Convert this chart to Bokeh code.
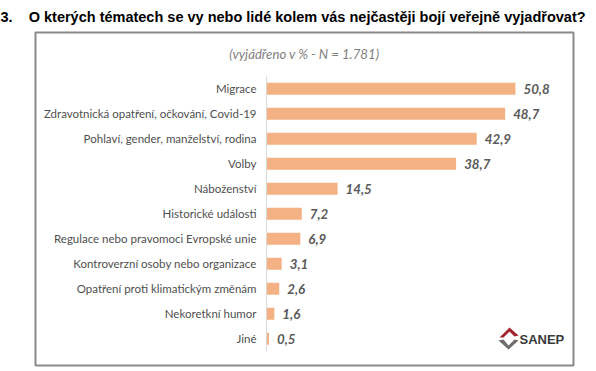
from bokeh.plotting import figure
from bokeh.models import Range1d, Label, ColumnDataSource
from bokeh.core.properties import value
from bokeh.embed import file_html
from bokeh.resources import INLINE

# ---- data ----
categories = [
    "Migrace",
    "Zdravotnická opatření, očkování, Covid-19",
    "Pohlaví, gender, manželství, rodina",
    "Volby",
    "Náboženství",
    "Historické události",
    "Regulace nebo pravomoci Evropské unie",
    "Kontroverzní osoby nebo organizace",
    "Opatření proti klimatickým změnám",
    "Nekoretkní humor",
    "Jiné",
]
values = [50.8, 48.7, 42.9, 38.7, 14.5, 7.2, 6.9, 3.1, 2.6, 1.6, 0.5]
value_labels = ["50,8", "48,7", "42,9", "38,7", "14,5", "7,2", "6,9", "3,1", "2,6", "1,6", "0,5"]
title_text = "3.\u00a0\u00a0\u00a0\u00a0O kterých tématech se vy nebo lidé kolem vás nejčastěji bojí veřejně vyjadřovat?"
subtitle_text = "(vyjádřeno v % - N = 1.781)"
brand = "SANEP"

n = len(categories)
ypos = [n - 1 - i for i in range(n)]

# pixel <-> data helpers (page pixels; 4.9 px per % in x, 25 px per row in y)
PX0, SX = 266.0, 4.9
PY0, SY = 338.3, 25.0

def dx(px):
    return (px - PX0) / SX

def dy(py):
    return (PY0 - py) / SY

FL, FR, FT, FB = 30, 578, 28, 369   # frame edges in page pixels
W, H = 596, 371

p = figure(width=W, height=H, output_backend="svg", toolbar_location=None,
           x_range=Range1d(dx(FL), dx(FR)), y_range=Range1d(dy(FB), dy(FT)),
           min_border_left=FL, min_border_right=W - FR,
           min_border_top=FT, min_border_bottom=H - FB)
p.xaxis.visible = False
p.yaxis.visible = False
p.grid.visible = False
p.outline_line_color = None
p.background_fill_color = "white"
p.border_fill_color = "white"

p.title.text = title_text
p.title.text_font = "Liberation Sans"
p.title.text_font_style = "bold"
p.title.text_font_size = "14.5px"
p.title.text_color = "#000000"
p.title.align = "left"
p.title.offset = -30
p.title.standoff = 7

# frame box
p.quad(left=[dx(35)], right=[dx(573)], bottom=[dy(365)], top=[dy(32)],
       fill_color=None, line_color="#8a8a8a", line_width=2)

src = ColumnDataSource(dict(y=ypos, v=values, lab=value_labels, cat=categories, zero=[0] * n))

p.hbar(y="y", left=0, right="v", height=0.48, source=src,
       fill_color="#F4B183", line_color=None)

# axis line
p.segment(x0=[0], y0=[-0.5], x1=[0], y1=[n - 0.5], line_color="#D9D9D9", line_width=1)

# category labels
p.text(x="zero", y="y", text="cat", source=src, x_offset=-10,
       text_align="right", text_baseline="middle",
       text_font=value("Lato"), text_font_size="11.5px", text_color="#4F4F4F")

# value labels
p.text(x="v", y="y", text="lab", source=src, x_offset=8,
       text_align="left", text_baseline="middle",
       text_font=value("Lato"), text_font_style="bold italic",
       text_font_size="13.3px", text_color="#595959")

# subtitle
p.add_layout(Label(x=dx(304), y=dy(53), text=subtitle_text,
                   text_align="center", text_baseline="middle",
                   text_font="Lato", text_font_style="italic",
                   text_font_size="13.2px", text_color="#7F7F7F"))

# logo
red = [(499, 337), (509, 327), (518, 335), (514, 336), (509, 331), (503, 337)]
gray = [(498, 340), (503, 339), (508, 345), (514, 339), (518, 340), (508, 349)]
p.patch([dx(a) for a, b in red], [dy(b) for a, b in red], fill_color="#A3232B", line_color=None)
p.patch([dx(a) for a, b in gray], [dy(b) for a, b in gray], fill_color="#6E6E6E", line_color=None)
p.add_layout(Label(x=dx(519), y=dy(339), text=brand, text_align="left", text_baseline="middle",
                   text_font="Liberation Sans", text_font_style="bold",
                   text_font_size="13px", text_color="#3A3A3A"))

open("out.html", "w").write(file_html(p, INLINE))
